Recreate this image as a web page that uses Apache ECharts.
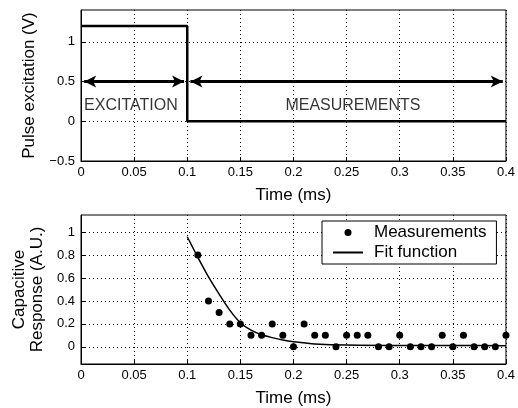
<!DOCTYPE html>
<html>
<head>
<meta charset="utf-8">
<script src="https://cdn.jsdelivr.net/npm/echarts@6/dist/echarts.min.js"></script>
<style>
  html, body { margin: 0; padding: 0; background: #fff; }
  #chart { width: 518px; height: 408px; }
</style>
</head>
<body>
<div id="chart"></div>
<script>
// pulse excitation (top)
var stepTime = [0, 0.1, 0.1, 0.4]
var stepVolt = [1.2, 1.2, 0, 0]
var excitationSpan = [0.003, 0.097]
var measurementSpan = [0.103, 0.397]
var arrowLevel = 0.5
var regionNames = ['EXCITATION', 'MEASUREMENTS']
var regionX = [0.047, 0.256]
var regionY = [0.2, 0.2]
var topTicks = [-0.5, 0, 0.5, 1]

// capacitive response (bottom)
var measTime = [0.11, 0.12, 0.13, 0.14, 0.15, 0.16, 0.17, 0.18, 0.19, 0.20,
  0.21, 0.22, 0.23, 0.24, 0.25, 0.26, 0.27, 0.28, 0.29, 0.30,
  0.31, 0.32, 0.33, 0.34, 0.35, 0.36, 0.37, 0.38, 0.39, 0.40]
var measResp = [0.8, 0.4, 0.3, 0.2, 0.2, 0.1, 0.1, 0.2, 0.1, 0.0,
  0.2, 0.1, 0.1, 0.0, 0.1, 0.1, 0.1, 0.0, 0.0, 0.1,
  0.0, 0.0, 0.0, 0.1, 0.0, 0.1, 0.0, 0.0, 0.0, 0.1]
var fitTime = [0.10, 0.11, 0.12, 0.13, 0.14, 0.15, 0.16, 0.17, 0.18, 0.19, 0.20, 0.21, 0.22, 0.25, 0.30, 0.35, 0.40]
var fitResp = [0.96, 0.78, 0.61, 0.46, 0.32, 0.21, 0.145, 0.105, 0.08, 0.06, 0.045, 0.035, 0.025, 0.015, 0.012, 0.011, 0.01]
var bottomTicks = [0, 0.2, 0.4, 0.6, 0.8, 1]

function zip(a, b) {
  return a.map(function (v, i) { return [v, b[i]] })
}

var font = 'Liberation Sans, Arial, sans-serif'
var grid = { show: true, borderColor: '#000', borderWidth: 1, backgroundColor: '#fff' }

function xAx(idx) {
  return {
    gridIndex: idx, type: 'value', min: 0, max: 0.4, interval: 0.05,
    name: 'Time (ms)', nameLocation: 'middle', nameGap: 26,
    nameTextStyle: { fontFamily: font, fontSize: 17, color: '#000' },
    axisLine: { onZero: false, lineStyle: { color: '#000', width: 1 } },
    axisTick: { inside: true, length: 4, lineStyle: { color: '#000' } },
    axisLabel: { fontFamily: font, fontSize: 13, color: '#000', margin: 5 },
    splitLine: { lineStyle: { color: '#000', type: [1, 3], width: 1 } }
  }
}

function yAx(idx, min, max, ticks, name, gap) {
  return {
    gridIndex: idx, type: 'value', min: min, max: max,
    name: name, nameLocation: 'middle', nameGap: gap, nameRotate: 90,
    nameTextStyle: { fontFamily: font, fontSize: 17, color: '#000', lineHeight: 18 },
    axisLine: { onZero: false, lineStyle: { color: '#000', width: 1 } },
    axisTick: { inside: true, length: 4, customValues: ticks, lineStyle: { color: '#000' } },
    axisLabel: { fontFamily: font, fontSize: 13, color: '#000', margin: 6, customValues: ticks,
      formatter: function (v) { return v < 0 ? '\u2212' + Math.abs(v) : String(v) } },
    splitLine: { lineStyle: { color: '#000', type: [1, 3], width: 1 } }
  }
}

var chart = echarts.init(document.getElementById('chart'), null, { renderer: 'canvas' })

chart.setOption({
  backgroundColor: '#fff',
  animation: false,
  grid: [
    Object.assign({ left: 81, top: 10, width: 427, height: 151 }, grid),
    Object.assign({ left: 81, top: 215, width: 427, height: 151 }, grid)
  ],
  xAxis: [xAx(0), xAx(1)],
  yAxis: [
    yAx(0, -0.5, 1.4, topTicks, 'Pulse excitation (V)', 37),
    yAx(1, -0.15, 1.15, bottomTicks, 'Capacitive\nResponse (A.U.)', 34)
  ],
  legend: {
    left: 322, top: 221,
    orient: 'vertical',
    backgroundColor: '#fff',
    borderColor: '#000', borderWidth: 1, borderRadius: 0,
    padding: [3, 10, 3, 10],
    itemGap: 3, itemWidth: 30, itemHeight: 7,
    textStyle: { fontFamily: font, fontSize: 17, color: '#000', padding: [0, 0, 0, 6] },
    data: [
      { name: 'Measurements', icon: 'circle' },
      { name: 'Fit function', itemStyle: { opacity: 0 } }
    ]
  },
  series: [
    {
      type: 'line', xAxisIndex: 0, yAxisIndex: 0,
      data: zip(stepTime, stepVolt), symbol: 'none',
      lineStyle: { color: '#000', width: 2.5 },
      markLine: {
        silent: true, symbol: ['arrow', 'arrow'], symbolSize: [9, 12],
        label: { show: false },
        lineStyle: { color: '#000', width: 3, type: 'solid' },
        data: [
          [{ coord: [excitationSpan[0], arrowLevel] }, { coord: [excitationSpan[1], arrowLevel] }],
          [{ coord: [measurementSpan[0], arrowLevel] }, { coord: [measurementSpan[1], arrowLevel] }]
        ]
      }
    },
    {
      type: 'scatter', xAxisIndex: 0, yAxisIndex: 0,
      data: regionX.map(function (x, i) { return { value: [x, regionY[i]], name: regionNames[i] } }),
      symbolSize: 1, itemStyle: { color: 'rgba(0,0,0,0)' }, silent: true,
      label: { show: true, position: 'inside', formatter: '{b}', fontFamily: font, fontSize: 16, color: '#000' }
    },
    {
      name: 'Measurements', type: 'scatter', xAxisIndex: 1, yAxisIndex: 1,
      data: zip(measTime, measResp), symbol: 'circle', symbolSize: 7,
      itemStyle: { color: '#000', opacity: 1 }
    },
    {
      name: 'Fit function', type: 'line', xAxisIndex: 1, yAxisIndex: 1,
      data: zip(fitTime, fitResp), symbol: 'none', smooth: 0.3,
      lineStyle: { color: '#000', width: 1.5 }, itemStyle: { color: '#000' }
    }
  ]
})
</script>
</body>
</html>
